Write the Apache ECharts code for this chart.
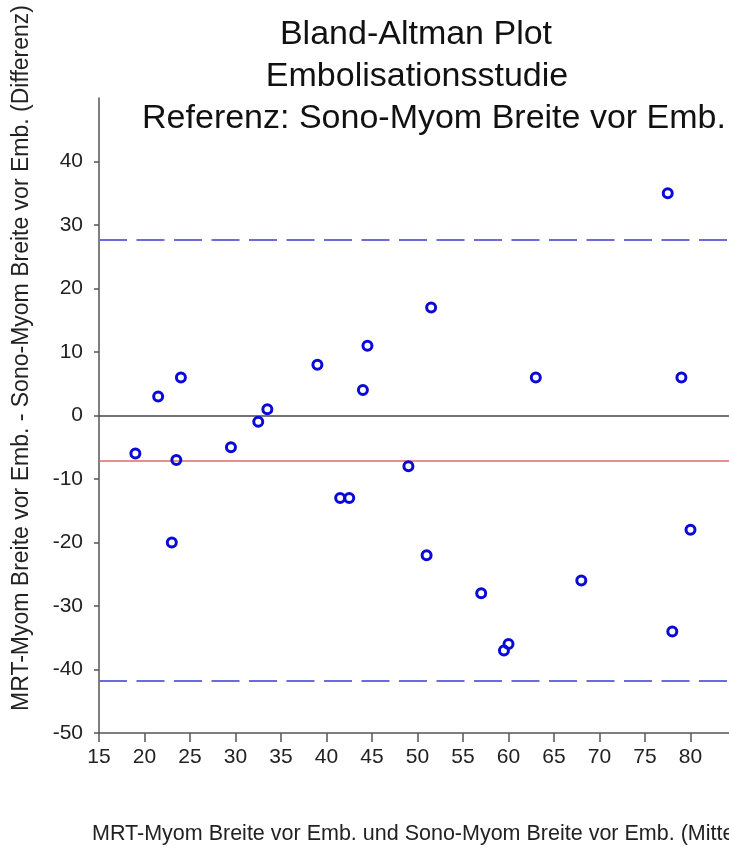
<!DOCTYPE html>
<html>
<head>
<meta charset="utf-8">
<script src="https://cdn.jsdelivr.net/npm/echarts@6/dist/echarts.min.js"></script>
<style>
html,body{margin:0;padding:0;background:#fff;}
#chart{width:729px;height:848px;}
</style>
</head>
<body>
<div id="chart"></div>
<script>
// Mean of the two methods (x) and difference (y)
const meanValues = [19, 21.5, 24, 23.5, 23, 29.5, 32.5, 33.5, 39, 44, 44.5, 41.5, 42.5, 49, 51, 51.5, 63, 79, 80, 57, 68, 60, 59.5, 78, 77.5];
const diffValues = [-6, 3, 6, -7, -20, -5, -1, 1, 8, 4, 11, -13, -13, -8, -22, 17, 6, 6, -18, -28, -26, -36, -37, -34, 35];
const meanDiff = -7.1;
const upperLoA = 27.6;
const lowerLoA = -41.8;
const xTickValues = [15, 20, 25, 30, 35, 40, 45, 50, 55, 60, 65, 70, 75, 80];
const yTickValues = [-50, -40, -30, -20, -10, 0, 10, 20, 30, 40];
const titleLines = ['Bland-Altman Plot', 'Embolisationsstudie', 'Referenz: Sono-Myom Breite vor Emb.'];
const xAxisName = 'MRT-Myom Breite vor Emb. und Sono-Myom Breite vor Emb. (Mittelwert)';
const yAxisName = 'MRT-Myom Breite vor Emb. - Sono-Myom Breite vor Emb. (Differenz)';

const FONT = '"Liberation Sans", Arial, sans-serif';
const chart = echarts.init(document.getElementById('chart'), null, {renderer: 'canvas'});
const points = meanValues.map((m, i) => [m, diffValues[i]]);

chart.setOption({
  backgroundColor: '#ffffff',
  animation: false,
  title: [
    {text: titleLines[0], left: 416, top: 18, textAlign: 'center', padding: 0,
     textStyle: {fontFamily: FONT, fontSize: 34, fontWeight: 'normal', color: '#111'}},
    {text: titleLines[1], left: 417, top: 60, textAlign: 'center', padding: 0,
     textStyle: {fontFamily: FONT, fontSize: 34, fontWeight: 'normal', color: '#111'}},
    {text: titleLines[2], left: 434, top: 102, textAlign: 'center', padding: 0,
     textStyle: {fontFamily: FONT, fontSize: 34, fontWeight: 'normal', color: '#111'}}
  ],
  grid: {left: 99, top: 98, bottom: 115, right: -7, containLabel: false, outerBoundsMode: 'none'},
  xAxis: {
    type: 'value', min: 15, max: 85, interval: 5,
    axisLine: {show: true, onZero: false, lineStyle: {color: '#555', width: 1.5}},
    axisTick: {show: true, length: 9, customValues: xTickValues, lineStyle: {color: '#555', width: 1.5}},
    axisLabel: {margin: 14, fontFamily: FONT, fontSize: 21, color: '#222', customValues: xTickValues},
    splitLine: {show: false}
  },
  yAxis: {
    type: 'value', min: -50, max: 50, interval: 10,
    axisLine: {show: true, onZero: false, lineStyle: {color: '#555', width: 1.5}},
    axisTick: {show: true, length: 5, customValues: yTickValues, lineStyle: {color: '#555', width: 1.5}},
    axisLabel: {margin: 16, fontFamily: FONT, fontSize: 21, color: '#222', customValues: yTickValues},
    splitLine: {show: false}
  },
  graphic: [
    {type: 'text', x: 22, y: 358, rotation: Math.PI / 2,
     style: {text: yAxisName, font: '23px ' + FONT, fill: '#222', textAlign: 'center', textVerticalAlign: 'middle'}},
    {type: 'text', x: 92, y: 834,
     style: {text: xAxisName, font: '21.5px ' + FONT, fill: '#222', textAlign: 'left', textVerticalAlign: 'middle'}}
  ],
  series: [{
    type: 'scatter',
    data: points,
    symbol: 'circle',
    symbolSize: 9,
    itemStyle: {color: 'rgba(0,0,0,0)', borderColor: '#0a0ad8', borderWidth: 3, opacity: 1},
    z: 5,
    markLine: {
      silent: true,
      symbol: 'none',
      label: {show: false},
      z: 2,
      data: [
        {yAxis: 0, lineStyle: {color: '#444', width: 1.5, type: 'solid'}},
        {yAxis: meanDiff, lineStyle: {color: '#e06868', width: 1.5, type: 'solid'}},
        {yAxis: upperLoA, lineStyle: {color: '#6b6bdc', width: 2, type: [28, 9.5]}},
        {yAxis: lowerLoA, lineStyle: {color: '#6b6bdc', width: 2, type: [28, 9.5]}}
      ]
    }
  }]
});
</script>
</body>
</html>
